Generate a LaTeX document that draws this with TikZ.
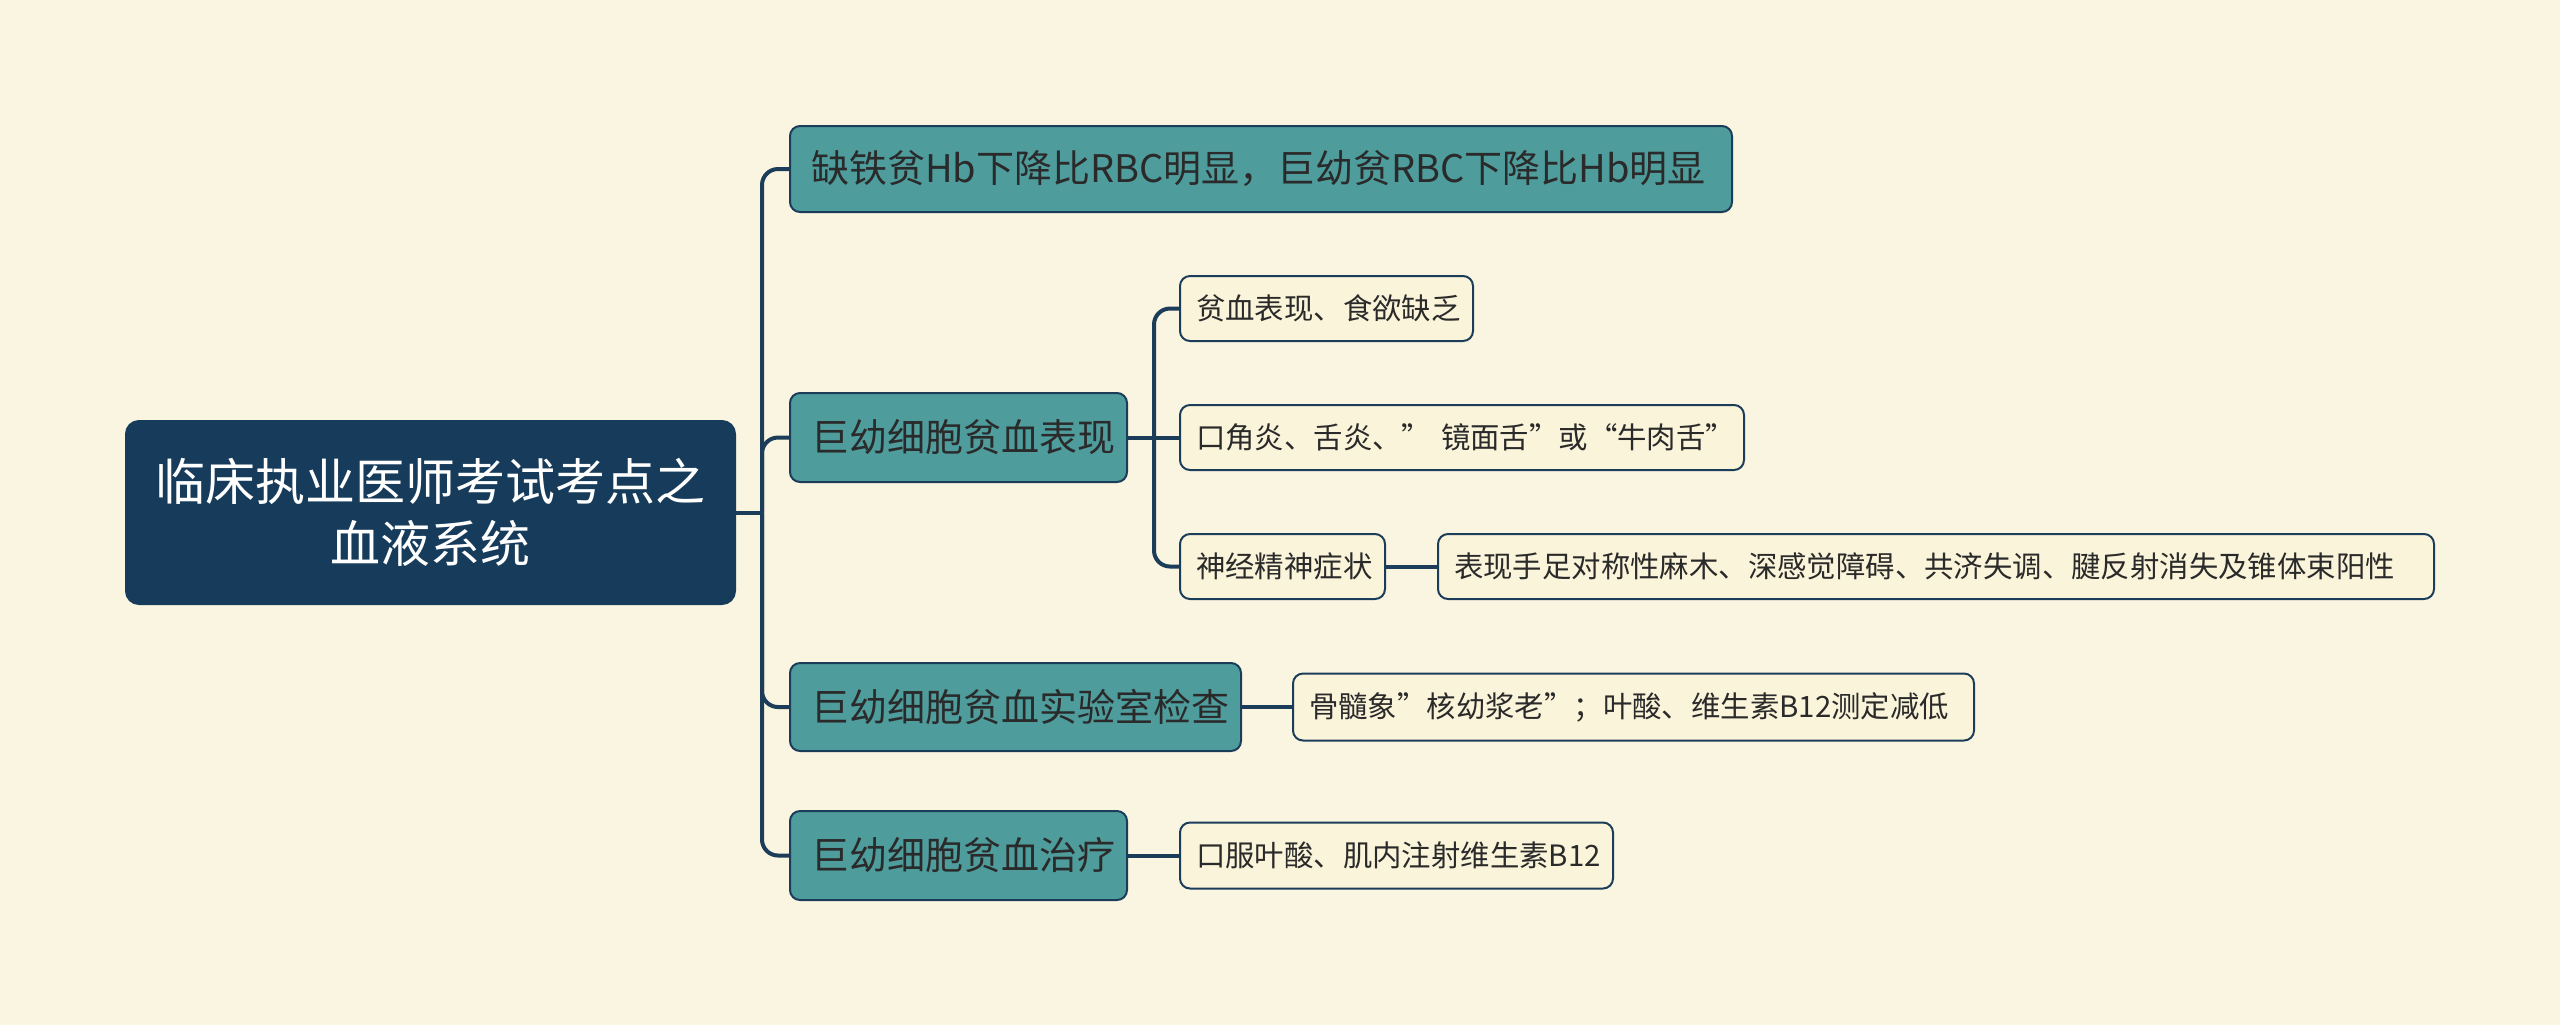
\documentclass[tikz,border=0pt]{standalone}
\usepackage{fontspec}
\setmainfont{Noto Sans CJK SC}
\definecolor{bgc}{HTML}{FAF5E0}
\definecolor{rootc}{HTML}{173C5B}
\definecolor{tealc}{HTML}{4F9C9D}
\definecolor{creamc}{HTML}{FAF4DA}
\definecolor{linec}{HTML}{1C3D5A}
\definecolor{txtc}{HTML}{2A2A2A}
\tikzset{
  rootbox/.style={draw=rootc, fill=rootc, line width=1pt, rounded corners=6.5pt, text=white, font=\fontsize{25pt}{31pt}\selectfont, align=center, inner sep=0pt},
  lvone/.style={draw=linec, fill=tealc, line width=1pt, rounded corners=5pt, text=txtc, font=\fontsize{19pt}{22pt}\selectfont, inner xsep=10.5pt, inner ysep=0pt, align=left},
  lvtwo/.style={draw=linec, fill=creamc, line width=1pt, rounded corners=5pt, text=txtc, font=\fontsize{14.7pt}{18pt}\selectfont, inner xsep=8pt, inner ysep=0pt, align=left},
  conn/.style={draw=linec, line width=2pt, rounded corners=8pt},
}
\begin{document}
\begin{tikzpicture}[x=0.5pt,y=-0.5pt]
\fill[bgc] (0,0) rectangle (2560,1025);
\useasboundingbox (0,0) rectangle (2560,1025);
% root
\node[rootbox, minimum width=304.5pt, minimum height=91.5pt] (root) at (430.5,512.5) {临床执业医师考试考点之\\血液系统};
% level 1
\node[lvone, text width=450pt, minimum height=43pt] (A) at (1261,169) {缺铁贫Hb下降比RBC明显，巨幼贫RBC下降比Hb明显};
\node[lvone, text width=147.5pt, minimum height=44.5pt] (B) at (958.5,437.5) {巨幼细胞贫血表现};
\node[lvone, text width=204.5pt, minimum height=44pt] (C) at (1015.5,707) {巨幼细胞贫血实验室检查};
\node[lvone, text width=147.5pt, minimum height=44.5pt] (D) at (958.5,855.5) {巨幼细胞贫血治疗};
% level 2
\node[lvtwo, text width=130.5pt, minimum height=32.5pt] (B1) at (1326.5,308.5) {贫血表现、食欲缺乏};
\node[lvtwo, text width=266pt, minimum height=32.5pt] (B2) at (1462,437.5) {\mbox{口角炎、舌炎、”~镜面舌”或“牛肉舌”}};
\node[lvtwo, text width=86.5pt, minimum height=32.5pt] (B3) at (1282.5,566.5) {神经精神症状};
\node[lvtwo, text width=482pt, minimum height=32.5pt] (B3a) at (1936,566.5) {表现手足对称性麻木、深感觉障碍、共济失调、腱反射消失及锥体束阳性};
\node[lvtwo, text width=324.5pt, minimum height=33.5pt] (C1) at (1633.5,707) {骨髓象”核幼浆老”；叶酸、维生素B12测定减低};
\node[lvtwo, text width=200.5pt, minimum height=33pt] (D1) at (1396.5,855.5) {口服叶酸、肌内注射维生素B12};
% connectors
\coordinate (j1) at (762,512.5);
\coordinate (j2) at (1154,437.5);
\draw[conn] (root.east) -- (j1);
\draw[conn] (j1) |- (A.west);
\draw[conn] (j1) |- (B.west);
\draw[conn] (j1) |- (C.west);
\draw[conn] (j1) |- (D.west);
\draw[conn] (B.east) -- (j2);
\draw[conn] (j2) |- (B1.west);
\draw[conn] (j2) -- (B2.west);
\draw[conn] (j2) |- (B3.west);
\draw[conn] (B3.east) -- (B3a.west);
\draw[conn] (C.east) -- (C1.west);
\draw[conn] (D.east) -- (D1.west);
\end{tikzpicture}
\end{document}
